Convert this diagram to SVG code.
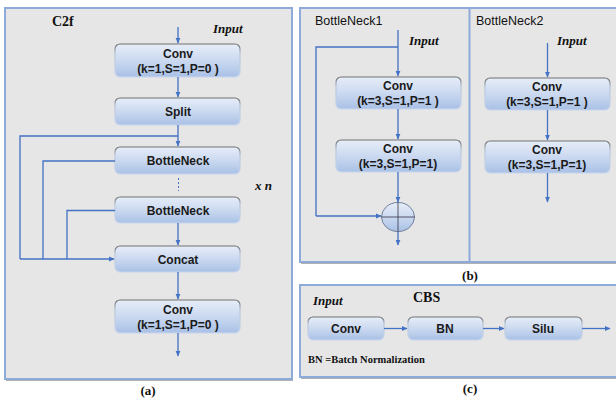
<svg xmlns="http://www.w3.org/2000/svg" width="616" height="399" viewBox="0 0 616 399">
<defs>
<linearGradient id="bf" x1="0" y1="0" x2="0" y2="1">
<stop offset="0" stop-color="#e6edf8"/>
<stop offset="0.5" stop-color="#cbd9f0"/>
<stop offset="1" stop-color="#a9c1e6"/>
</linearGradient>
<linearGradient id="bs" x1="0" y1="0" x2="0" y2="1">
<stop offset="0" stop-color="#6e6e6e"/>
<stop offset="0.3" stop-color="#b9c6da"/>
<stop offset="1" stop-color="#c9d6ec"/>
</linearGradient>
<marker id="ah" markerWidth="6" markerHeight="6" refX="5" refY="3" orient="auto" markerUnits="userSpaceOnUse">
<path d="M0,0.6 L5.5,3 L0,5.4 Z" fill="#4472c4"/>
</marker>
<style>
.panel{fill:#e6e6e6;stroke:#8eaadb;stroke-width:2}
.shadow{fill:#b0b0b0}
.box{fill:url(#bf);stroke:url(#bs);stroke-width:1.2}
.bt{font-family:"Liberation Sans",Arial,sans-serif;font-weight:bold;font-size:12px;fill:#1a1a1a;text-anchor:middle}
.tt{font-family:"Liberation Sans",Arial,sans-serif;font-size:12.5px;fill:#111}
.ser{font-family:"Liberation Serif","Times New Roman",serif;font-weight:bold;fill:#111}
.it{font-family:"Liberation Serif","Times New Roman",serif;font-weight:bold;font-style:italic;font-size:13px;fill:#111}
.ln{fill:none;stroke:#4472c4;stroke-width:1.3}
.ar{fill:none;stroke:#4472c4;stroke-width:1.3;marker-end:url(#ah)}
</style>
</defs>
<rect width="616" height="399" fill="#ffffff"/>

<!-- panels -->
<rect class="shadow" x="6" y="9" width="287" height="372"/>
<rect class="panel" x="5" y="8" width="287" height="371"/>
<rect class="shadow" x="301" y="9" width="322" height="255"/>
<rect class="panel" x="300" y="8" width="322" height="254"/>
<line x1="469.5" y1="8" x2="469.5" y2="262" stroke="#8eaadb" stroke-width="2"/>
<rect class="shadow" x="301" y="286" width="322" height="93"/>
<rect class="panel" x="300" y="285" width="322" height="92"/>

<!-- panel (a) labels -->
<text class="ser" x="52" y="26" font-size="14">C2f</text>
<text class="it" x="213" y="33">Input</text>
<text class="it" x="255" y="190" font-size="12">x n</text>
<text class="ser" x="148" y="395" font-size="13" text-anchor="middle">(a)</text>

<g id="a_conv1"><rect class="box" x="115" y="44" width="125" height="33" rx="5"/><text class="bt" x="178" y="58">Conv</text><text class="bt" x="178" y="73">(k=1,S=1,P=0  )</text></g>
<g id="a_split"><rect class="box" x="115" y="98" width="125" height="27" rx="5"/><text class="bt" x="178" y="116">Split</text></g>
<g id="a_bn1"><rect class="box" x="115" y="147" width="125" height="27" rx="5"/><text class="bt" x="178" y="165">BottleNeck</text></g>
<g id="a_bn2"><rect class="box" x="115" y="197" width="125" height="26" rx="5"/><text class="bt" x="178" y="214.5">BottleNeck</text></g>
<g id="a_concat"><rect class="box" x="115" y="246" width="125" height="26" rx="5"/><text class="bt" x="178" y="263.5">Concat</text></g>
<g id="a_conv2"><rect class="box" x="115" y="300" width="125" height="33" rx="5"/><text class="bt" x="178" y="314">Conv</text><text class="bt" x="178" y="329">(k=1,S=1,P=0  )</text></g>

<!-- panel (b) -->
<text class="tt" x="315" y="25">BottleNeck1</text>
<text class="it" x="409" y="45">Input</text>
<g id="b1_conv1"><rect class="box" x="336" y="77" width="125" height="32" rx="5"/><text class="bt" x="398" y="90">Conv</text><text class="bt" x="398" y="105">(k=3,S=1,P=1  )</text></g>
<g id="b1_conv2"><rect class="box" x="336" y="140" width="125" height="32" rx="5"/><text class="bt" x="398" y="153">Conv</text><text class="bt" x="398" y="168">(k=3,S=1,P=1)</text></g>
<g id="b1_add"><ellipse cx="398" cy="217" rx="16.5" ry="14.5" fill="url(#bf)" stroke="#6f7f99" stroke-width="1"/><line x1="398" y1="202.5" x2="398" y2="231.5" stroke="#334" stroke-width="0.8"/><line x1="381.5" y1="217" x2="414.5" y2="217" stroke="#334" stroke-width="0.8"/></g>

<text class="tt" x="476" y="25">BottleNeck2</text>
<text class="it" x="557" y="45">Input</text>
<g id="b2_conv1"><rect class="box" x="485" y="78" width="125" height="32" rx="5"/><text class="bt" x="547" y="91">Conv</text><text class="bt" x="547" y="106">(k=3,S=1,P=1  )</text></g>
<g id="b2_conv2"><rect class="box" x="485" y="141" width="125" height="32" rx="5"/><text class="bt" x="547" y="154">Conv</text><text class="bt" x="547" y="169">(k=3,S=1,P=1)</text></g>
<text class="ser" x="470" y="280" font-size="13" text-anchor="middle">(b)</text>

<!-- panel (c) -->
<text class="it" x="313" y="305">Input</text>
<text class="ser" x="413" y="302" font-size="14">CBS</text>
<g id="c_conv"><rect class="box" x="308" y="317" width="76" height="23" rx="5"/><text class="bt" x="346" y="332.5">Conv</text></g>
<g id="c_bn"><rect class="box" x="408" y="317" width="75" height="23" rx="5"/><text class="bt" x="445" y="332.5">BN</text></g>
<g id="c_silu"><rect class="box" x="505" y="317" width="77" height="23" rx="5"/><text class="bt" x="543" y="332.5">Silu</text></g>
<text class="ser" x="308" y="363" font-size="10.5">BN =Batch Normalization</text>
<text class="ser" x="470" y="393" font-size="13" text-anchor="middle">(c)</text>

<g id="connectors">
<!-- (a) -->
<path class="ar" d="M178,27 V43"/>
<path class="ar" d="M178,77 V97"/>
<path class="ar" d="M178,125 V146"/>
<line x1="178.5" y1="178" x2="178.5" y2="191" stroke="#4472c4" stroke-width="1" stroke-dasharray="2,2"/>
<path class="ar" d="M178,223 V245"/>
<path class="ar" d="M178,272 V299"/>
<path class="ar" d="M178,333 V356"/>
<path class="ln" d="M178,136 H20 V259"/>
<path class="ln" d="M115,161 H43 V259"/>
<path class="ln" d="M115,210.5 H67 V259"/>
<path class="ar" d="M20,259 H114"/>
<!-- (b) left -->
<path class="ar" d="M398,30 V76"/>
<path class="ln" d="M398,47 H316 V216"/>
<path class="ar" d="M316,216 H381"/>
<path class="ar" d="M398,109 V139"/>
<path class="ar" d="M398,172 V202"/>
<path class="ar" d="M398,232 V245"/>
<!-- (b) right -->
<path class="ar" d="M547.5,43 V77"/>
<path class="ar" d="M547.5,110 V140"/>
<path class="ar" d="M547.5,173 V202"/>
<!-- (c) -->
<path class="ar" d="M384,328.5 H407"/>
<path class="ar" d="M483,328.5 H504"/>
<path class="ar" d="M582,328.5 H610"/>
</g>
</svg>
